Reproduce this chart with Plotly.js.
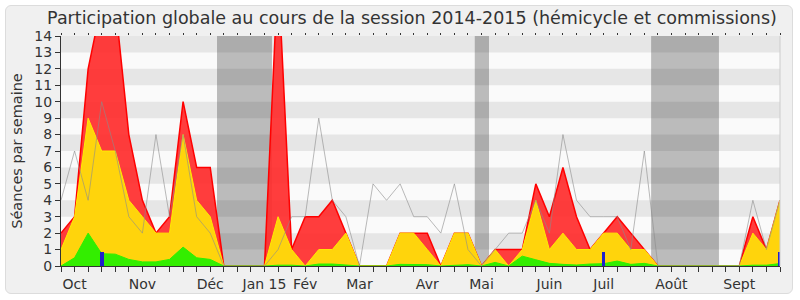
<!DOCTYPE html>
<html>
<head>
<meta charset="utf-8">
<script src="https://cdn.plot.ly/plotly-3.0.1.min.js"></script>
<style>
  html, body { margin: 0; padding: 0; background: #ffffff; }
  #frame { position: absolute; left: 5px; top: 5px; width: 786px; height: 287px;
           background: #f0f0f0; border: 1px solid #dcdcdc; border-radius: 6px; }
  #chart { position: absolute; left: 0; top: 0; width: 800px; height: 300px; }
</style>
</head>
<body>
<div id="frame"></div>
<div id="chart"></div>
<script>
// Weekly data, session 2014-2015 (54 weeks)
const red    = [2,3,12,16,16,8,4,2,3,10,6,6,0,0,0,0,18,1,3,3,4,2,0,0,0,2,2,2,0,2,2,0,1,1,1,5,3,6,3,1,2,3,2,1,0,0,0,0,0,0,0,3,1,4];
const yellow = [1,3,9,7,7,4,3,2,2,8,4,3,0,0,0,0,3,1,0,1,1,2,0,0,0,2,2,1,0,2,2,0,1,0,1,4,1,2,1,1,2,2,1,1,0,0,0,0,0,0,0,2,1,4];
const green  = [0,0.5,2,0.75,0.72,0.4,0.25,0.25,0.4,1.15,0.5,0.4,0,0,0,0,0.05,0.05,0,0.12,0.12,0.05,0,0,0,0.1,0.1,0.08,0,0.05,0.08,0,0.22,0,0.6,0.38,0.16,0.1,0.06,0.12,0.14,0.3,0.1,0.16,0,0,0,0,0,0,0,0.05,0.05,0.15];
const grayLine = [4,7,4,10,7,3,2,8,3,8,3,2,0,0,0,0,1,3,3,9,4,3,0,5,4,5,3,3,2,5,1,0,1,2,2,4,2,8,4,3,3,3,1,7,0,0,0,0,0,0,0,4,1,4];
const blueIdx = [3, 40, 53];
const blueVal = [0.87, 0.87, 0.87];
const monthIdx    = [1, 6, 11, 15, 18, 22, 27, 31, 36, 40, 45, 50];
const monthLabels = ['Oct', 'Nov', 'Déc', 'Jan 15', 'Fév', 'Mar', 'Avr', 'Mai', 'Juin', 'Juil', 'Août', 'Sept'];
const vacStart = [11.5, 30.5, 43.5];
const vacEnd   = [15.55, 31.55, 48.5];

const weeks = red.map((_, i) => i);
const tickText = weeks.map(i => { const k = monthIdx.indexOf(i); return k >= 0 ? monthLabels[k] : ''; });

const traces = [
  { x: weeks, y: red, type: 'scatter', mode: 'lines', fill: 'tozeroy',
    fillcolor: 'rgba(255,45,45,0.92)', line: { color: '#ff0000', width: 1.5 }, hoverinfo: 'skip' },
  { x: weeks, y: yellow, type: 'scatter', mode: 'lines', fill: 'tozeroy',
    fillcolor: '#ffd40c', line: { color: '#ffec00', width: 1 }, hoverinfo: 'skip' },
  { x: weeks, y: green, type: 'scatter', mode: 'lines', fill: 'tozeroy',
    fillcolor: '#33ee00', line: { color: '#2cf000', width: 1 }, hoverinfo: 'skip' },
  { x: weeks, y: grayLine, type: 'scatter', mode: 'lines',
    line: { color: 'rgba(140,140,140,0.6)', width: 1 }, hoverinfo: 'skip' },
  { x: blueIdx, y: blueVal, type: 'bar', xaxis: 'x2', yaxis: 'y', width: 0.27,
    marker: { color: '#2020cc', line: { width: 0 } }, hoverinfo: 'skip' }
];

const shapes = [];
for (let k = 1; k < 14; k += 2) {
  shapes.push({ type: 'rect', layer: 'below', xref: 'paper', x0: 0, x1: 1, yref: 'y', y0: k, y1: k + 1,
                fillcolor: '#e6e6e6', line: { width: 0 } });
}
vacStart.forEach((s, j) => {
  shapes.push({ type: 'rect', layer: 'below', xref: 'x', x0: s, x1: vacEnd[j], yref: 'paper', y0: 0, y1: 1,
                fillcolor: 'rgba(0,0,0,0.25)', line: { width: 0 } });
});
shapes.push({ type: 'line', layer: 'above', xref: 'paper', x0: 1, x1: 1, yref: 'paper', y0: 0, y1: 1,
              line: { color: '#cccccc', width: 1 } });

const layout = {
  width: 800, height: 300,
  margin: { l: 61, r: 20, t: 36, b: 34, pad: 0 },
  paper_bgcolor: 'rgba(0,0,0,0)',
  plot_bgcolor: '#fafafa',
  font: { family: 'DejaVu Sans, Verdana, sans-serif', color: '#333333', size: 14 },
  showlegend: false,
  title: { text: 'Participation globale au cours de la session 2014-2015 (hémicycle et commissions)',
           font: { size: 17.5, color: '#333333' }, xref: 'container', x: 0.515, xanchor: 'center',
           yref: 'container', y: 0.94, yanchor: 'middle' },
  xaxis: { range: [0, 53], tickvals: weeks, ticktext: tickText, tickangle: 0,
           ticks: 'outside', ticklen: 5, tickcolor: '#333333', tickwidth: 1,
           showline: true, linecolor: '#333333', linewidth: 1,
           showgrid: false, zeroline: false, tickfont: { size: 14, color: '#333333' }, fixedrange: true },
  xaxis2: { overlaying: 'x', side: 'top', range: [0, 53], tickvals: weeks, showticklabels: false,
            ticks: 'outside', ticklen: 2, tickcolor: '#333333', tickwidth: 1,
            showline: false, showgrid: false, zeroline: false, fixedrange: true },
  yaxis: { range: [0, 14], tick0: 0, dtick: 1, ticks: 'outside', ticklen: 5, tickcolor: '#333333',
           showline: true, linecolor: '#333333', linewidth: 1, showgrid: false, zeroline: false,
           tickfont: { size: 14, color: '#333333' },
           title: { text: 'Séances par semaine', font: { size: 14.5, color: '#333333' }, standoff: 8 },
           fixedrange: true },
  bargap: 0,
  shapes: shapes
};

Plotly.newPlot('chart', traces, layout, { displayModeBar: false, staticPlot: true });
</script>
</body>
</html>
